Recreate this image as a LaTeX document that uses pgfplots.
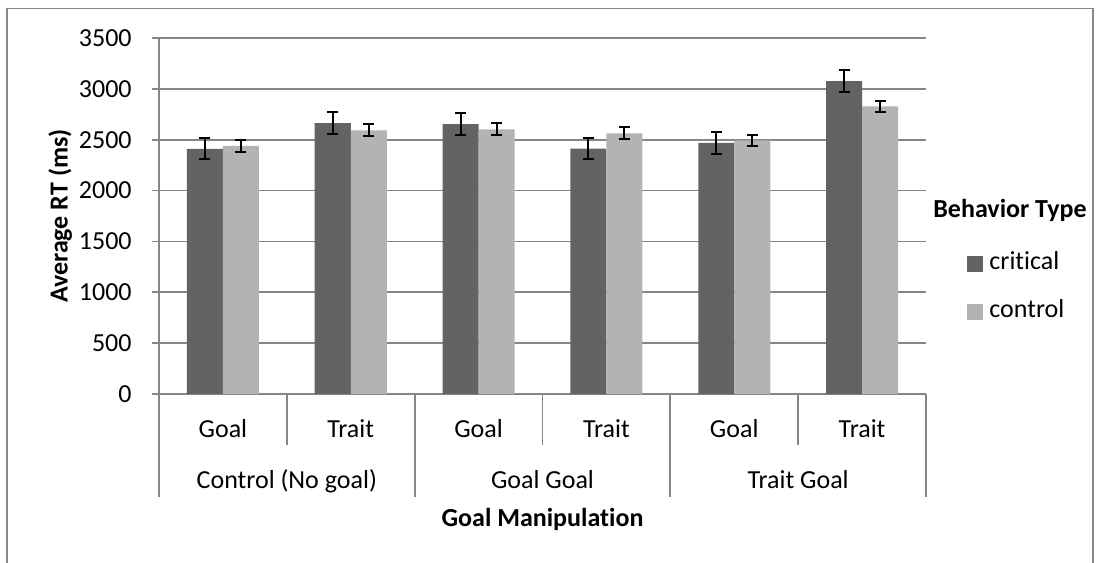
\documentclass[border=0pt]{standalone}
\usepackage{fontspec}
\setmainfont{Carlito}[Ligatures=NoCommon]
\usepackage{pgfplots}
\usepackage{pgfplotstable}
\pgfplotsset{compat=1.18}
\definecolor{crit}{RGB}{99,99,99}
\definecolor{ctrl}{RGB}{179,179,179}
\definecolor{gridc}{RGB}{134,134,134}

\pgfplotstableread{
x y e
0 2410 104
1 2664 105
2 2654 107
3 2412 105
4 2468 108
5 3077 107
}\critdata
\pgfplotstableread{
x y e
0 2440 56
1 2592 59
2 2602 58
3 2563 58
4 2494 56
5 2828 57
}\ctrldata

\begin{document}
\fontsize{13bp}{15.6bp}\selectfont
\begin{tikzpicture}
\useasboundingbox (0,0) rectangle (548.5bp,-281.5bp);
\draw[gridc, line width=0.9bp] (3.5bp,-290bp) -- (3.5bp,-4.25bp) -- (546.4bp,-4.25bp) -- (546.4bp,-290bp);
\begin{axis}[
  at={(79.5bp,-197bp)}, anchor=south west,
  scale only axis, width=383.5bp, height=178bp,
  xmin=-0.5, xmax=5.5, ymin=0, ymax=3500,
  axis x line*=bottom, axis y line*=left,
  axis line style={gridc, line width=0.9bp},
  ytick={0,500,...,3500}, ymajorgrids,
  grid style={gridc, line width=0.9bp},
  tick style={gridc, line width=0.9bp}, tick align=outside,
  major tick length=3.5bp,
  xtick=\empty,
  font=\fontsize{13bp}{15.6bp}\selectfont,
  yticklabel style={font=\fontsize{13bp}{15.6bp}\selectfont, inner sep=0pt, xshift=-10bp},
  /pgf/number format/assume math mode=true,
  /pgf/number format/1000 sep={},
  ylabel={\bfseries Average RT (ms)},
  ylabel style={at={(axis description cs:-0.129,0.5)}, anchor=center},
  ybar=0pt, bar width=18bp,
  clip=false,
  legend style={at={(axis description cs:1.0535,0.2978)}, anchor=west, draw=none, fill=none,
    inner sep=0pt, row sep=12bp,
    nodes={inner sep=0pt, text height=9bp, text depth=3bp, font=\fontsize{13bp}{15.6bp}\selectfont},
    /tikz/every odd column/.style={column sep=3bp}},
  legend cell align=left,
  legend image code/.code={\fill[#1] (0bp,-4bp) rectangle (8bp,4bp);},
]
\addplot[fill=crit, draw=none, error bars/.cd, y dir=both, y explicit,
  error bar style={black, line width=1bp},
  error mark options={rotate=90, black, line width=1bp, mark size=2.75bp}]
  table[x=x, y=y, y error=e] {\critdata};
\addlegendentry{critical}
\addplot[fill=ctrl, draw=none, error bars/.cd, y dir=both, y explicit,
  error bar style={black, line width=1bp},
  error mark options={rotate=90, black, line width=1bp, mark size=2.75bp}]
  table[x=x, y=y, y error=e] {\ctrldata};
\addlegendentry{control}

% category separators
\draw[gridc, line width=0.9bp] (axis cs:0.5,0) -- ([yshift=-25.5bp]axis cs:0.5,0);
\draw[gridc, line width=0.9bp] (axis cs:2.5,0) -- ([yshift=-25.5bp]axis cs:2.5,0);
\draw[gridc, line width=0.9bp] (axis cs:4.5,0) -- ([yshift=-25.5bp]axis cs:4.5,0);
\draw[gridc, line width=0.9bp] (axis cs:-0.5,0) -- ([yshift=-51.5bp]axis cs:-0.5,0);
\draw[gridc, line width=0.9bp] (axis cs:1.5,0) -- ([yshift=-51.5bp]axis cs:1.5,0);
\draw[gridc, line width=0.9bp] (axis cs:3.5,0) -- ([yshift=-51.5bp]axis cs:3.5,0);
\draw[gridc, line width=0.9bp] (axis cs:5.5,0) -- ([yshift=-51.5bp]axis cs:5.5,0);

\node[anchor=base, yshift=-21.5bp] at (axis cs:0,0) {Goal};
\node[anchor=base, yshift=-21.5bp] at (axis cs:1,0) {Trait};
\node[anchor=base, yshift=-21.5bp] at (axis cs:2,0) {Goal};
\node[anchor=base, yshift=-21.5bp] at (axis cs:3,0) {Trait};
\node[anchor=base, yshift=-21.5bp] at (axis cs:4,0) {Goal};
\node[anchor=base, yshift=-21.5bp] at (axis cs:5,0) {Trait};
\node[anchor=base, yshift=-47.2bp] at (axis cs:0.5,0) {Control (No goal)};
\node[anchor=base, yshift=-47.2bp] at (axis cs:2.5,0) {Goal Goal};
\node[anchor=base, yshift=-47.2bp] at (axis cs:4.5,0) {Trait Goal};
\node[anchor=base, yshift=-66.3bp, font=\bfseries] at (axis cs:2.5,0) {Goal Manipulation};
\node[anchor=west, inner sep=0pt, font=\bfseries] at (axis description cs:1.0091,0.5169) {Behavior Type};
\end{axis}
\end{tikzpicture}
\end{document}
